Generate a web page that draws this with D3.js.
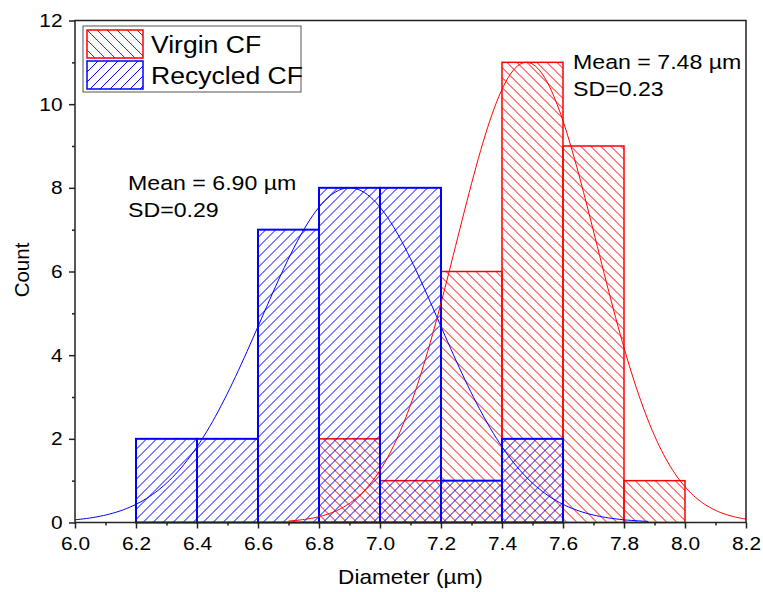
<!DOCTYPE html>
<html>
<head>
<meta charset="utf-8">
<script src="https://cdn.jsdelivr.net/npm/d3@7"></script>
<style>
  body { margin: 0; background: #fff; }
  svg { display: block; font-family: Arial, "Liberation Sans", sans-serif; }
</style>
</head>
<body>
<div id="chart"></div>
<script>
// histogram bins (left edge) and counts
var binWidth = 0.2;
var recycledBins = [6.2, 6.4, 6.6, 6.8, 7.0, 7.2, 7.4];
var recycledCounts = [2, 2, 7, 8, 8, 1, 2];
var virginBins = [6.8, 7.0, 7.2, 7.4, 7.6, 7.8];
var virginCounts = [2, 1, 6, 11, 9, 1];

// gaussian fit parameters: [recycled, virgin]
var fitMean = [6.90, 7.48];
var fitSD = [0.29, 0.23];
var fitPeak = [8.0, 11.0];
var fitFrom = [6.0, 6.70];
var fitTo = [7.88, 8.2];

var xTicks = [6.0, 6.2, 6.4, 6.6, 6.8, 7.0, 7.2, 7.4, 7.6, 7.8, 8.0, 8.2];
var yTicks = [0, 2, 4, 6, 8, 10, 12];
var seriesNames = ["Virgin CF", "Recycled CF"];
var annotations = [["Mean = 6.90 \u00b5m", "SD=0.29"], ["Mean = 7.48 \u00b5m", "SD=0.23"]];

var red = "#ff0000", blue = "#0000ff";
var W = 763, H = 592;
var margin = { top: 20.5, right: 17, bottom: 69.5, left: 75 };
var w = W - margin.left - margin.right,
    h = H - margin.top - margin.bottom;
var sx = 1.13; // text in the reference is a little wide

var x = d3.scaleLinear().domain([6.0, 8.2]).range([0, w]);
var y = d3.scaleLinear().domain([0, 12]).range([h, 0]);

var svg = d3.select("#chart").append("svg")
  .attr("width", W).attr("height", H);

// hatch patterns
var defs = svg.append("defs");
function hatch(id, color, back) {
  var p = defs.append("pattern").attr("id", id)
    .attr("patternUnits", "userSpaceOnUse")
    .attr("width", 10).attr("height", 10);
  p.append("path")
    .attr("d", back ? "M0,0L10,10M-1,9L1,11M9,-1L11,1" : "M0,10L10,0M-1,1L1,-1M9,11L11,9")
    .attr("stroke", color).attr("stroke-width", 1).attr("fill", "none");
}
hatch("hatchRed", red, true);
hatch("hatchBlue", blue, false);

function label(parent, px, py, size, txt, anchor) {
  return parent.append("text")
    .attr("transform", "translate(" + px + "," + py + ") scale(" + sx + ",1)")
    .attr("text-anchor", anchor || "start")
    .style("font-size", size + "px")
    .text(txt);
}

var g = svg.append("g")
  .attr("transform", "translate(" + margin.left + "," + margin.top + ")");

// virgin bars
g.selectAll(".vbar").data(virginBins).enter().append("rect")
  .attr("class", "vbar")
  .attr("x", function(d) { return x(d); })
  .attr("y", function(d, i) { return y(virginCounts[i]); })
  .attr("width", function(d) { return x(d + binWidth) - x(d); })
  .attr("height", function(d, i) { return y(0) - y(virginCounts[i]); })
  .attr("fill", "url(#hatchRed)")
  .attr("stroke", red).attr("stroke-width", 1.5);

// recycled bars
g.selectAll(".rbar").data(recycledBins).enter().append("rect")
  .attr("class", "rbar")
  .attr("x", function(d) { return x(d); })
  .attr("y", function(d, i) { return y(recycledCounts[i]); })
  .attr("width", function(d) { return x(d + binWidth) - x(d); })
  .attr("height", function(d, i) { return y(0) - y(recycledCounts[i]); })
  .attr("fill", "url(#hatchBlue)")
  .attr("stroke", blue).attr("stroke-width", 2);

// fitted curves
var line = d3.line()
  .x(function(d) { return x(d[0]); })
  .y(function(d) { return y(d[1]); });
[blue, red].forEach(function(c, k) {
  var pts = d3.range(0, 201).map(function(j) {
    var xv = fitFrom[k] + (fitTo[k] - fitFrom[k]) * j / 200;
    var z = (xv - fitMean[k]) / fitSD[k];
    return [xv, fitPeak[k] * Math.exp(-0.5 * z * z)];
  });
  g.append("path").datum(pts)
    .attr("d", line)
    .attr("fill", "none").attr("stroke", c).attr("stroke-width", 1);
});

// axes
var xAxis = g.append("g").attr("transform", "translate(0," + h + ")")
  .call(d3.axisBottom(x).tickValues(xTicks).tickFormat(d3.format(".1f")).tickSize(6).tickPadding(8));
var xMinor = g.append("g").attr("transform", "translate(0," + h + ")")
  .call(d3.axisBottom(x).tickValues(xTicks.slice(0, -1).map(function(d) { return d + 0.1; }))
    .tickFormat("").tickSize(3));
var yAxis = g.append("g")
  .call(d3.axisLeft(y).tickValues(yTicks).tickSize(6).tickPadding(5));
var yMinor = g.append("g")
  .call(d3.axisLeft(y).tickValues(yTicks.slice(0, -1).map(function(d) { return d + 1; }))
    .tickFormat("").tickSize(3));
[xAxis, xMinor, yAxis, yMinor].forEach(function(a) {
  a.select(".domain").remove();
  a.selectAll("line").attr("stroke", "#222").attr("stroke-width", 1.5);
  a.selectAll("text").attr("fill", "#000").style("font-size", "18.5px")
    .style("font-family", "Arial, 'Liberation Sans', sans-serif")
    .attr("transform", "scale(" + sx + ",1)");
});

// frame
g.append("rect").attr("x", 0).attr("y", 0).attr("width", w).attr("height", h)
  .attr("fill", "none").attr("stroke", "#222").attr("stroke-width", 1.5);

// axis titles
label(svg, margin.left + w / 2, 584, 20, "Diameter (\u00b5m)", "middle");
svg.append("text")
  .attr("transform", "translate(29,270) rotate(-90)")
  .attr("text-anchor", "middle").style("font-size", "20.5px")
  .text("Count");

// annotations
var annPos = [[128, 190], [573, 69]];
annotations.forEach(function(a, k) {
  a.forEach(function(t, j) {
    label(svg, annPos[k][0], annPos[k][1] + j * 26.5, 20.5, t);
  });
});

// legend
var leg = svg.append("g").attr("transform", "translate(83,26)");
leg.append("rect").attr("width", 218).attr("height", 66)
  .attr("fill", "#fff").attr("stroke", "#555").attr("stroke-width", 1);
[["url(#hatchRed)", red], ["url(#hatchBlue)", blue]].forEach(function(s, i) {
  leg.append("rect").attr("x", 4).attr("y", 4 + i * 31)
    .attr("width", 56).attr("height", 28)
    .attr("fill", s[0]).attr("stroke", s[1]).attr("stroke-width", 1.5);
  label(leg, 68, 27 + i * 31, 23.5, seriesNames[i]);
});
</script>
</body>
</html>
